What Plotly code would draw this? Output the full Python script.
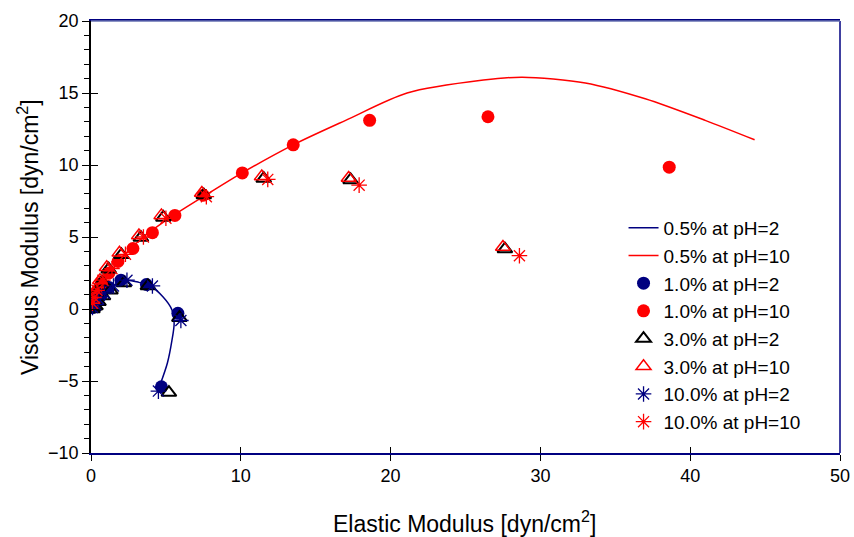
import plotly.graph_objects as go

# 0.5% lines (smoothed)
line_ph2_x = [0.0, 0.3, 0.8, 1.5, 2.4, 3.2, 3.9, 4.8, 5.4, 5.55, 5.4, 5.1, 4.6]
line_ph2_y = [0.0, 0.4, 1.0, 1.6, 2.0, 1.85, 1.65, 0.85, -0.05, -1.0, -2.2, -3.75, -5.3]
line_ph10_x = [0.0, 0.3, 1.0, 2.0, 3.5, 5.5, 7.8, 10.0, 13.5, 17.0, 21.1, 26.2, 28.8, 33.0, 37.0, 41.0, 44.3]
line_ph10_y = [0.0, 0.8, 2.0, 3.5, 5.0, 6.5, 8.0, 9.4, 11.4, 13.1, 15.0, 15.9, 16.1, 15.7, 14.6, 13.1, 11.75]

# 1.0% circles
c_ph2_x = [0.1, 0.2, 0.4, 0.7, 1.2, 2.0, 3.7, 5.8, 4.7]
c_ph2_y = [0.1, 0.3, 0.6, 1.0, 1.5, 2.0, 1.7, -0.3, -5.4]
c_ph10_x = [0.1, 0.2, 0.4, 0.7, 1.2, 1.8, 2.8, 4.1, 5.6, 7.5, 10.1, 13.5, 18.6, 26.5, 38.6]
c_ph10_y = [0.3, 0.7, 1.2, 1.8, 2.5, 3.3, 4.2, 5.3, 6.5, 7.9, 9.45, 11.4, 13.1, 13.35, 9.85]

# 3.0% triangles
t_ph2_x = [0.1, 0.3, 0.5, 0.8, 1.3, 2.2, 3.8, 5.9, 5.2]
t_ph2_y = [0.0, 0.2, 0.5, 0.9, 1.3, 1.8, 1.6, -0.6, -5.8]
t_ph10_x = [0.05, 0.1, 0.3, 0.6, 1.05, 1.9, 3.2, 4.7, 7.4, 11.4, 17.2, 27.5]
t_ph10_y = [0.3, 0.7, 1.3, 2.0, 2.9, 3.9, 5.1, 6.5, 8.05, 9.2, 9.1, 4.3]

# 10.0% asterisks
a_ph2_x = [0.1, 0.3, 0.5, 0.9, 1.5, 2.4, 4.1, 6.0, 4.5]
a_ph2_y = [0.1, 0.3, 0.7, 1.1, 1.6, 2.0, 1.6, -0.8, -5.7]
a_ph10_x = [0.1, 0.2, 0.4, 0.8, 1.4, 2.3, 3.5, 5.0, 7.7, 11.8, 17.9, 28.6]
a_ph10_y = [0.4, 0.8, 1.3, 2.0, 2.8, 3.8, 5.0, 6.3, 7.8, 9.0, 8.6, 3.7]

x_title = "Elastic Modulus [dyn/cm<sup>2</sup>]"
y_title = "Viscous Modulus [dyn/cm<sup>2</sup>]"

NAVY = "#000080"
RED = "#FF0000"

fig = go.Figure()
fig.add_trace(go.Scatter(x=line_ph2_x, y=line_ph2_y, mode="lines", name="0.5% at pH=2",
                         line=dict(color=NAVY, width=1.5, shape="spline", smoothing=0.8)))
fig.add_trace(go.Scatter(x=line_ph10_x, y=line_ph10_y, mode="lines", name="0.5% at pH=10",
                         line=dict(color=RED, width=1.5, shape="spline", smoothing=0.8)))
fig.add_trace(go.Scatter(x=c_ph2_x, y=c_ph2_y, mode="markers", name="1.0% at pH=2",
                         marker=dict(symbol="circle", size=13, color=NAVY)))
fig.add_trace(go.Scatter(x=c_ph10_x, y=c_ph10_y, mode="markers", name="1.0% at pH=10",
                         marker=dict(symbol="circle", size=13, color=RED)))
fig.add_trace(go.Scatter(x=t_ph2_x, y=t_ph2_y, mode="markers", name="3.0% at pH=2",
                         marker=dict(symbol="triangle-up-open", size=13, color="black",
                                     line=dict(width=2, color="black"))))
# shadow of red triangles
fig.add_trace(go.Scatter(x=[v + 0.13 for v in t_ph10_x], y=[v - 0.14 for v in t_ph10_y],
                         mode="markers", showlegend=False, hoverinfo="skip",
                         marker=dict(symbol="triangle-up-open", size=13, color="black",
                                     line=dict(width=2, color="black"))))
fig.add_trace(go.Scatter(x=t_ph10_x, y=t_ph10_y, mode="markers", name="3.0% at pH=10",
                         marker=dict(symbol="triangle-up-open", size=13, color=RED,
                                     line=dict(width=1.5, color=RED))))
fig.add_trace(go.Scatter(x=a_ph2_x, y=a_ph2_y, mode="markers", name="10.0% at pH=2",
                         marker=dict(symbol="asterisk-open", size=13, color=NAVY,
                                     line=dict(width=1.3, color=NAVY))))
fig.add_trace(go.Scatter(x=a_ph10_x, y=a_ph10_y, mode="markers", name="10.0% at pH=10",
                         marker=dict(symbol="asterisk-open", size=13, color=RED,
                                     line=dict(width=1.3, color=RED))))
# overlay axes for inner half of crossing ticks
fig.add_trace(go.Scatter(x=[], y=[], xaxis="x2", yaxis="y2", showlegend=False))

FONT = "Liberation Sans, Arial, sans-serif"
fig.update_layout(
    width=854, height=537,
    margin=dict(l=91, r=14, t=21, b=84),
    paper_bgcolor="white", plot_bgcolor="white",
    font=dict(family=FONT, size=18, color="black"),
    showlegend=True,
    legend=dict(x=0.711, y=0.565, xanchor="left", yanchor="top",
                bgcolor="rgba(0,0,0,0)", font=dict(size=19, family=FONT),
                tracegroupgap=0),
    xaxis=dict(range=[0, 50], dtick=10, showgrid=False, zeroline=False,
               showline=True, linecolor=NAVY, linewidth=1.5, mirror=True,
               ticks="outside", ticklen=6, tickcolor="black",
               tickfont=dict(size=18), automargin=False),
    yaxis=dict(range=[-10, 20], dtick=5, showgrid=False, zeroline=False,
               showline=True, linecolor="black", linewidth=1.5, mirror=False,
               ticks="outside", ticklen=7, tickcolor="black",
               minor=dict(dtick=1, ticks="outside", ticklen=5, tickcolor="black"),
               tickfont=dict(size=18), automargin=False),
    xaxis2=dict(overlaying="x", range=[0, 50], dtick=10, showgrid=False, zeroline=False,
                showticklabels=False, ticks="inside", ticklen=6, tickcolor="black", side="bottom"),
    yaxis2=dict(overlaying="y", range=[-10, 20], dtick=5, showgrid=False, zeroline=False,
                showticklabels=False, ticks="inside", ticklen=7, tickcolor="black", side="left"),
)
fig.add_annotation(text=x_title, xref="paper", yref="paper", x=0.4993, y=-0.1597,
                   xanchor="center", yanchor="middle", showarrow=False,
                   font=dict(size=23, family=FONT, color="black"))
fig.add_annotation(text=y_title, xref="paper", yref="paper", x=-0.0841, y=0.5,
                   xanchor="center", yanchor="middle", showarrow=False, textangle=-90,
                   font=dict(size=23, family=FONT, color="black"))
fig.add_shape(type="line", xref="paper", yref="paper", x0=1, x1=1, y0=0, y1=1,
              line=dict(color=NAVY, width=1.5))
fig.add_shape(type="line", xref="paper", yref="paper", x0=0, x1=1, y0=1, y1=1,
              line=dict(color="#6670B0", width=1.5))

fig.write_html("out.html")
